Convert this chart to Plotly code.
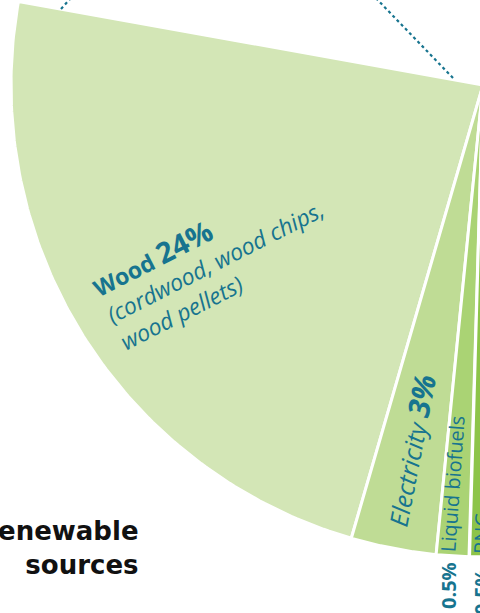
import numpy as np
import plotly.graph_objects as go

# ---- data ----
categories = ["Wood", "Electricity", "Liquid biofuels", "RNG"]
shares = [24, 3, 0.5, 0.5]          # percent of total
share_labels = ["24%", "3%", "0.5%", "0.5%"]
group_title = "Renewable sources"

# ---- style ----
slice_colors = ["#d3e6b6", "#bfdc95", "#aad374", "#8dc449"]
TEAL = "#17748f"
START_DEG = 169.8        # angle of first slice edge (math convention, deg)
DEG_PER_PCT = 3.5        # angular size per percent
MIN_DEG = 4.0            # minimum angular size for tiny slices (legibility)
W, H = 480, 613
CX, CY, R = 483.0, 85.0, 472.0   # pie centre / radius in pixels


def px(xp, yp):
    """pixel -> data coordinates (centre of pie at 0,0, radius 1)"""
    return (xp - CX) / R, (CY - yp) / R


fig = go.Figure()

a0 = START_DEG
for name, v, col in zip(categories, shares, slice_colors):
    span = max(v * DEG_PER_PCT, MIN_DEG)
    th = np.radians(np.linspace(a0, a0 + span, 120))
    xs = np.concatenate([[0], np.cos(th), [0]])
    ys = np.concatenate([[0], np.sin(th), [0]])
    fig.add_trace(go.Scatter(x=xs, y=ys, fill="toself", fillcolor=col,
                             mode="lines", line=dict(color="white", width=3),
                             hoverinfo="text", text=name, showlegend=False))
    a0 += span

# dotted connector lines
for (p1, p2) in [((61, 9), (80, -12)), ((453, 78), (370, -8))]:
    x1, y1 = px(*p1)
    x2, y2 = px(*p2)
    fig.add_trace(go.Scatter(x=[x1, x2], y=[y1, y2], mode="lines",
                             line=dict(color=TEAL, width=2.2, dash="dot"),
                             hoverinfo="skip", showlegend=False))

ann = []


def add(text, xp, yp, angle, size, family="Open Sans", color=TEAL, align="center",
        xanchor="center"):
    ann.append(dict(text=text, x=xp / W, y=1 - yp / H, xref="paper", yref="paper",
                    showarrow=False, textangle=angle, align=align,
                    xanchor=xanchor, yanchor="middle",
                    font=dict(family=family, size=size, color=color)))


add(f"<b>{categories[0]} <span style='font-size:29px'>{share_labels[0]}</span></b><br>"
    "<i>(cordwood, wood chips,</i><br><i>wood pellets)</i>",
    214, 259, -27, 23, align="left")
add(f"<i>{categories[1]}</i> <b><i><span style='font-size:30px'>{share_labels[1]}</span></i></b>",
    410, 450, -79, 25)
add(categories[2], 452, 484, -86, 20)
add(categories[3], 481, 533, -88, 20)
add(f"<b>{share_labels[2]}</b>", 448, 586, -90, 20)
add(f"<b>{share_labels[3]}</b>", 481, 592, -90, 20)

words = group_title.split(" ")
ann.append(dict(text=f"<b>{words[0]}<br>{words[1]}</b>", x=141 / W, y=1 - 548 / H,
                xref="paper", yref="paper", showarrow=False, align="right",
                xanchor="right", yanchor="middle",
                font=dict(family="DejaVu Sans", size=26, color="#111111")))

x0, _ = px(0, 0)
x1, _ = px(W, 0)
_, ytop = px(0, 0)
_, ybot = px(0, H)
fig.update_layout(
    width=W, height=H, margin=dict(l=0, r=0, t=0, b=0),
    paper_bgcolor="white", plot_bgcolor="white", showlegend=False,
    xaxis=dict(range=[x0, x1], visible=False, fixedrange=True),
    yaxis=dict(range=[ybot, ytop], visible=False, fixedrange=True),
    annotations=ann,
)
fig.write_html("out.html", config={"displayModeBar": False},
               post_script="document.body.style.margin='0';document.body.style.overflow='hidden';")
